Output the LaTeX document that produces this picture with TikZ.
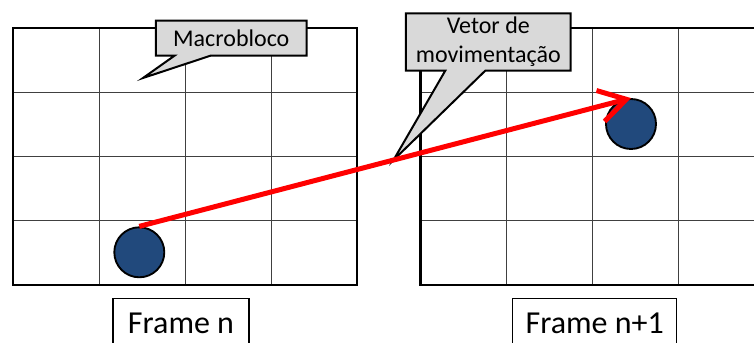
\documentclass[tikz,border=0pt]{standalone}
\usepackage{fontspec}
\setmainfont{Carlito}
\usetikzlibrary{shapes.callouts, arrows.meta}
\definecolor{ballblue}{RGB}{33,73,124}
\definecolor{notegray}{RGB}{217,217,217}

\begin{document}
\begin{tikzpicture}[x=0.75pt, y=-0.75pt,
  gridline/.style={line width=0.6pt, black!75},
  frameline/.style={line width=2pt},
  ball/.style={circle, draw, line width=1.4pt, fill=ballblue, minimum size=37.5pt, inner sep=0pt},
  note/.style={rectangle callout, draw, line width=1.5pt, fill=notegray, font=\fontsize{18}{21.6}\selectfont, align=center, inner sep=0pt},
  framelabel/.style={draw, line width=1pt, font=\fontsize{24}{28}\selectfont, anchor=north, inner ysep=0pt, text height=26pt, text depth=20pt}]
  \useasboundingbox (0,0) rectangle (754,343);
  % the two frames, 4x4 macroblocks each
  \foreach \ox in {13,420.7} {
    \foreach \i in {1,2,3}
      \draw[gridline] ({\ox+86*\i},28) -- ++(0,257);
    \foreach \j in {1,2,3}
      \draw[gridline] (\ox,{28+64.25*\j}) -- ++(344,0);
    \draw[frameline] (\ox,28) rectangle ++(344,257);
  }
  \node[ball] (ballA) at (139.3,252.3) {};
  \node[ball] (ballB) at (631,124) {};
  \node[framelabel, minimum width=102pt] (lblA) at (181,298) {Frame n};
  \node[framelabel, minimum width=123pt] (lblB) at (594.7,298) {Frame n+1};
  % callouts
  \coordinate (mbtip) at (143,78);
  \node[note, minimum width=113pt, minimum height=26.25pt, callout absolute pointer={(mbtip)}, callout pointer width=27pt] (mb) at (231.3,38.2) {Macrobloco};
  \path (ballA.north) -- (ballB.north) coordinate[pos=0.517] (vtip);
  \node[note, minimum width=123.5pt, minimum height=43pt, callout absolute pointer={(vtip)}, callout pointer width=30pt] (vm) at (488.3,42) {Vetor de\\movimentação};
  % motion vector
  \draw[red, line width=3.75pt, -{Straight Barb[length=20pt, width=24pt]}] (ballA.north) -- (ballB.north);
\end{tikzpicture}
\end{document}
